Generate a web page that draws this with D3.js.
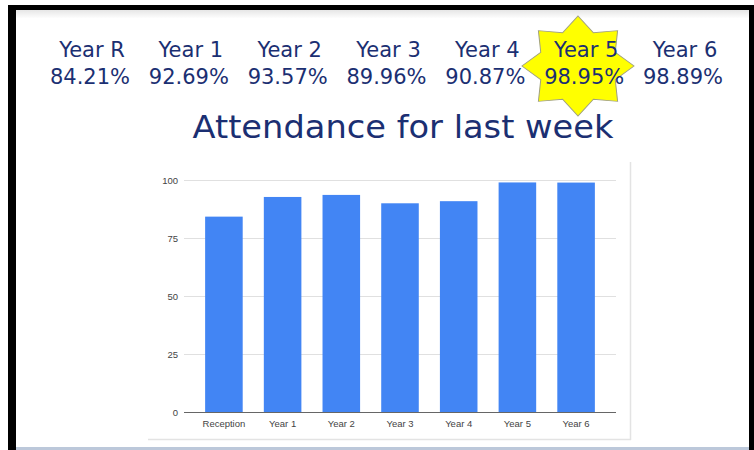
<!DOCTYPE html>
<html>
<head>
<meta charset="utf-8">
<script src="https://cdn.jsdelivr.net/npm/d3@7"></script>
<style>
  body { margin: 0; background: #fff; }
  svg { display: block; }
  .axis text { font-family: "Liberation Sans", Arial, sans-serif; font-size: 9.5px; fill: #444; }
  .headline { font-family: "DejaVu Sans", sans-serif; fill: #1b2f72; }
</style>
</head>
<body>
<svg id="chart"></svg>
<script>
// headline figures
const yearLabels = ['Year R', 'Year 1', 'Year 2', 'Year 3', 'Year 4', 'Year 5', 'Year 6'];
const attendance = [84.21, 92.69, 93.57, 89.96, 90.87, 98.95, 98.89];
// chart categories and ticks
const categories = ['Reception', 'Year 1', 'Year 2', 'Year 3', 'Year 4', 'Year 5', 'Year 6'];
const yTicks = [0, 25, 50, 75, 100];
const chartTitle = 'Attendance for last week';

const width = 754, height = 450;

const svg = d3.select('#chart')
    .attr('width', width)
    .attr('height', height);

// slide frame
svg.append('rect').attr('x', 8).attr('y', 5).attr('width', width - 8).attr('height', height - 5).attr('fill', '#000');
svg.append('rect').attr('x', 16).attr('y', 10).attr('width', 733).attr('height', 440).attr('fill', '#fff');

const grad = svg.append('defs').append('linearGradient')
    .attr('id', 'topband').attr('x1', 0).attr('x2', 0).attr('y1', 0).attr('y2', 1);
grad.append('stop').attr('offset', '0%').attr('stop-color', '#e6e6e6');
grad.append('stop').attr('offset', '100%').attr('stop-color', '#fdfdfd');
svg.append('rect').attr('x', 16).attr('y', 10).attr('width', 733).attr('height', 8).attr('fill', 'url(#topband)');
svg.append('rect').attr('x', 16).attr('y', 447).attr('width', 733).attr('height', 3).attr('fill', '#bcc8da');

// headline row
const xHead = d3.scalePoint().domain(yearLabels).range([92, 685]);

// highlight star behind Year 5
const starG = svg.append('g').attr('transform', 'translate(578,66)');
const starPts = d3.range(16).map(i => [i * Math.PI / 8, i % 2 === 0 ? 50 : 36]);
starG.append('path')
    .attr('d', d3.lineRadial().curve(d3.curveLinearClosed)(starPts))
    .attr('transform', 'scale(1.12,1)')
    .attr('fill', '#ffff00')
    .attr('stroke', '#a0a080')
    .attr('stroke-width', 0.9);

const head = svg.append('g');
head.selectAll('text.year')
    .data(yearLabels)
    .join('text')
    .attr('class', 'headline year')
    .attr('x', d => xHead(d))
    .attr('y', 57)
    .attr('text-anchor', 'middle')
    .attr('font-size', 21)
    .text(d => d);

head.selectAll('text.pct')
    .data(attendance)
    .join('text')
    .attr('class', 'headline pct')
    .attr('x', (d, i) => xHead(yearLabels[i]) - 2)
    .attr('y', 84)
    .attr('text-anchor', 'middle')
    .attr('font-size', 21)
    .text(d => d.toFixed(2) + '%');

svg.append('text')
    .attr('class', 'headline')
    .attr('x', 403)
    .attr('y', 138)
    .attr('text-anchor', 'middle')
    .attr('font-size', 32)
    .attr('textLength', 421)
    .attr('lengthAdjust', 'spacingAndGlyphs')
    .text(chartTitle);

// chart panel
svg.append('rect').attr('x', 148).attr('y', 162).attr('width', 483).attr('height', 278).attr('fill', '#fff');
svg.append('line').attr('x1', 630.5).attr('x2', 630.5).attr('y1', 162).attr('y2', 440).attr('stroke', '#e3e3e3').attr('stroke-width', 1.5);
svg.append('line').attr('x1', 148).attr('x2', 631).attr('y1', 439.5).attr('y2', 439.5).attr('stroke', '#e3e3e3').attr('stroke-width', 1.5);

const plot = { left: 184, right: 616, top: 180, bottom: 412 };

const x = d3.scaleBand()
    .domain(categories)
    .range([plot.left, plot.right])
    .paddingInner(0.36)
    .paddingOuter(0.36);

const y = d3.scaleLinear()
    .domain([0, 100])
    .range([plot.bottom, plot.top]);

// gridlines + y labels
const yAxis = d3.axisLeft(y).tickValues(yTicks).tickSize(-(plot.right - plot.left)).tickPadding(6);
svg.append('g')
    .attr('class', 'axis')
    .attr('transform', `translate(${plot.left},0)`)
    .call(yAxis)
    .call(g => g.select('.domain').remove())
    .call(g => g.selectAll('.tick line').attr('stroke', '#e0e0e0'));

svg.append('g')
    .selectAll('rect')
    .data(attendance)
    .join('rect')
    .attr('x', (d, i) => x(categories[i]))
    .attr('y', d => y(d))
    .attr('width', x.bandwidth())
    .attr('height', d => y(0) - y(d))
    .attr('fill', '#4285f4');

const xAxis = d3.axisBottom(x).tickSize(0).tickPadding(8);
svg.append('g')
    .attr('class', 'axis')
    .attr('transform', `translate(0,${plot.bottom})`)
    .call(xAxis)
    .call(g => g.select('.domain').attr('d', `M${plot.left},0.5H${plot.right}`).attr('stroke', '#666'));
</script>
</body>
</html>
